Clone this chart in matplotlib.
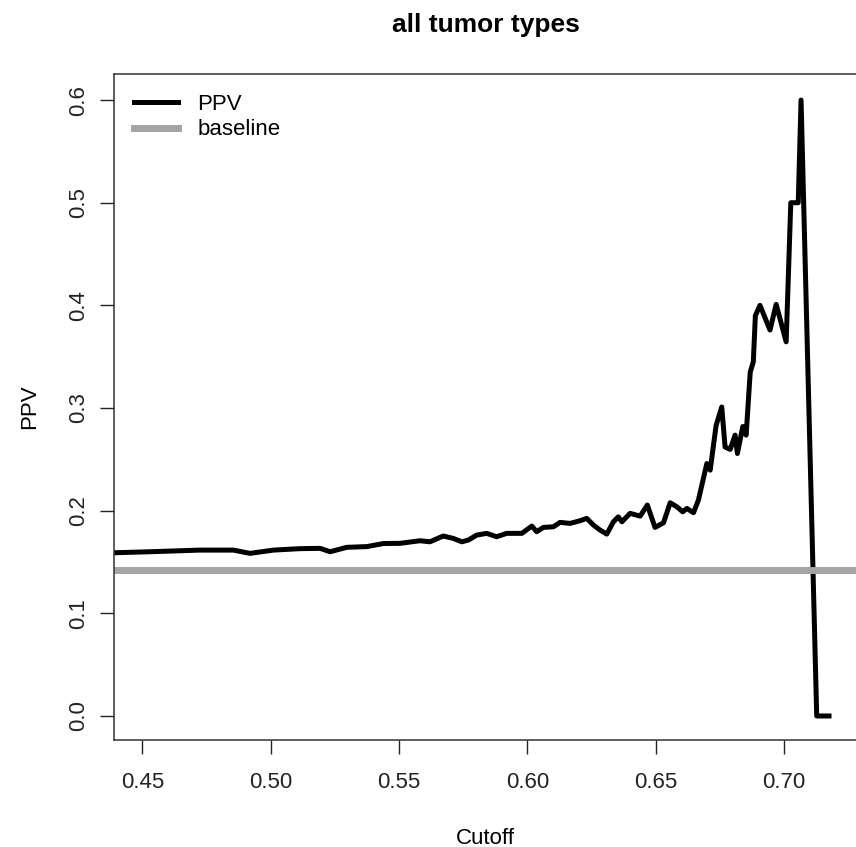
import matplotlib
matplotlib.use('Agg')
import matplotlib.pyplot as plt

plt.rcParams['font.family'] = ['Liberation Sans', 'DejaVu Sans']

# PPV curve
cutoff = [0.4389, 0.4529, 0.4724, 0.4854, 0.4919, 0.5010, 0.5114, 0.5192, 0.5231,
          0.5296, 0.5374, 0.5439, 0.5504, 0.5581, 0.5620, 0.5672, 0.5711, 0.5744,
          0.5770, 0.5802, 0.5841, 0.5880, 0.5919, 0.5978, 0.6017, 0.6036, 0.6062,
          0.6101, 0.6127, 0.6166, 0.6205, 0.6231, 0.6257, 0.6283, 0.6309, 0.6335,
          0.6354, 0.6368, 0.6400, 0.6439, 0.6467, 0.6497, 0.6530, 0.6556, 0.6582,
          0.6605, 0.6621, 0.6647, 0.6666, 0.6699, 0.6712, 0.6735, 0.6757, 0.6770,
          0.6790, 0.6809, 0.6818, 0.6839, 0.6852, 0.6868, 0.6880, 0.6888, 0.6906,
          0.6945, 0.6969, 0.7008, 0.7026, 0.7055, 0.7066, 0.7127, 0.7175]
ppv = [0.159, 0.160, 0.1616, 0.1616, 0.1584, 0.1616, 0.163, 0.1633, 0.160,
       0.1643, 0.165, 0.168, 0.1682, 0.1707, 0.1697, 0.1753, 0.1730, 0.1697,
       0.1714, 0.1762, 0.1779, 0.1746, 0.1779, 0.1779, 0.1850, 0.1795, 0.1837,
       0.1843, 0.1886, 0.1876, 0.1902, 0.1925, 0.1860, 0.1811, 0.1772, 0.1892,
       0.1940, 0.1892, 0.1974, 0.1947, 0.2055, 0.1837, 0.1882, 0.2077, 0.2038,
       0.1989, 0.2022, 0.1980, 0.2103, 0.246, 0.2395, 0.283, 0.301, 0.262,
       0.2597, 0.2736, 0.2557, 0.282, 0.2736, 0.335, 0.345, 0.390, 0.400,
       0.376, 0.401, 0.3645, 0.500, 0.500, 0.600, 0.0, 0.0]
baseline = 0.142

x_ticks = [0.45, 0.50, 0.55, 0.60, 0.65, 0.70]
y_ticks = [0.0, 0.1, 0.2, 0.3, 0.4, 0.5, 0.6]

fig = plt.figure(figsize=(8.56, 8.47), dpi=100)
ax = fig.add_axes([114/856, 107/847, 743/856, 666/847])

ax.plot(cutoff, ppv, color='black', lw=3.6, solid_joinstyle='round', label='PPV')
ax.axhline(baseline, color='#a5a3a3', lw=5, label='baseline')

ax.set_xlim(0.4389, 0.7284)
ax.set_ylim(-0.0234, 0.6254)
ax.set_xticks(x_ticks)
ax.set_xticklabels(['%.2f' % v for v in x_ticks])
ax.set_yticks(y_ticks)
ax.set_yticklabels(['%.1f' % v for v in y_ticks], rotation=90, va='center')
ax.tick_params(length=10, width=1, labelsize=16, colors='#222222')
ax.tick_params(axis='x', pad=13)
ax.tick_params(axis='y', pad=8)
for s in ax.spines.values():
    s.set_color('#333333')
    s.set_linewidth(1.1)

ax.set_xlabel('Cutoff', fontsize=16, labelpad=25)
ax.set_ylabel('PPV', fontsize=16, labelpad=20)
ax.set_title('all tumor types', fontsize=19, fontweight='bold', pad=30)

ax.legend(loc='upper left', frameon=False, fontsize=16, handlelength=2.0,
          handletextpad=0.85, borderaxespad=0.5, labelspacing=0.2)

fig.savefig('out.png', dpi=100)
